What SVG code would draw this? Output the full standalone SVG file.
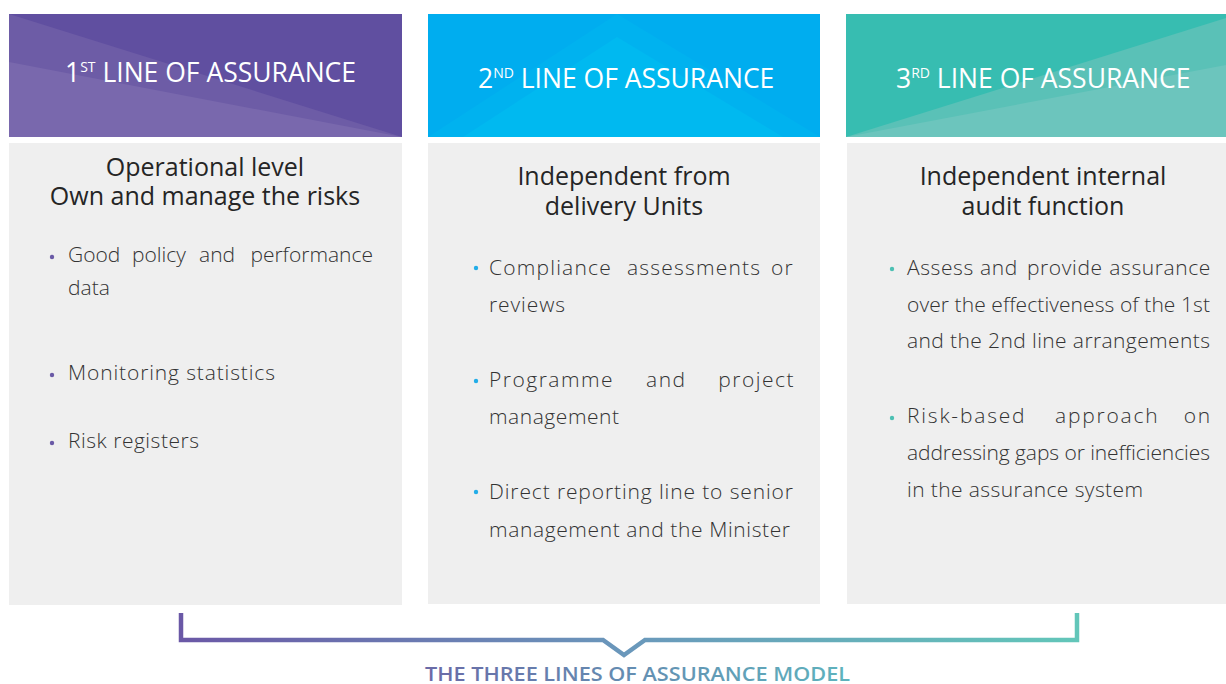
<svg xmlns="http://www.w3.org/2000/svg" width="1226" height="684" viewBox="0 0 1226 684">
<defs>
<linearGradient id="brk" gradientUnits="userSpaceOnUse" x1="181" y1="0" x2="1077" y2="0">
<stop offset="0" stop-color="#6a58a6"/>
<stop offset="0.5" stop-color="#6a98bb"/>
<stop offset="1" stop-color="#62c6b9"/>
</linearGradient>
<linearGradient id="ttl" gradientUnits="userSpaceOnUse" x1="425" y1="0" x2="850" y2="0">
<stop offset="0" stop-color="#6a6aa7"/>
<stop offset="1" stop-color="#5eb3bd"/>
</linearGradient>
</defs>
<style>
.hd{font-family:"Open Sans","DejaVu Sans",sans-serif;font-size:26.5px;fill:#ffffff}
.sup{font-size:14px}
.body{fill:#efefef}
.tt{font-family:"Open Sans","DejaVu Sans",sans-serif;font-size:25px;fill:#252525;text-anchor:middle}
.bl{font-family:"Open Sans","DejaVu Sans",sans-serif;font-size:21px;font-weight:300;fill:#333333}
.e{text-anchor:end}
.d1{fill:#6a5aa6}
.d2{fill:#22ade8}
.d3{fill:#4cc0b3}
.model{font-family:"Open Sans","DejaVu Sans",sans-serif;font-size:20px;font-weight:600}
</style>
<rect width="1226" height="684" fill="#ffffff"/>

<g id="line1">
<rect x="9" y="14" width="393" height="123" fill="#604fa0"/>
<polygon points="9,14 402,137 9,137" fill="#6d5ca6"/>
<polygon points="9,62 402,137 9,137" fill="#7968ad"/>
<text class="hd" x="65" y="82">1<tspan class="sup" dy="-10">ST</tspan><tspan dy="10"> LINE OF ASSURANCE</tspan></text>
<rect class="body" x="9" y="143" width="393" height="462"/>
<text class="tt" x="205" y="176">Operational level</text>
<text class="tt" x="205" y="205">Own and manage the risks</text>
<circle class="d1" cx="52" cy="257" r="2.2"/>
<text class="bl" y="262"><tspan x="68">Good</tspan> <tspan x="132">policy</tspan> <tspan x="199">and</tspan> <tspan class="e" x="373">performance</tspan></text>
<text class="bl" x="68" y="295">data</text>
<circle class="d1" cx="52" cy="375" r="2.2"/>
<text class="bl" x="68" y="380" textLength="207" lengthAdjust="spacing">Monitoring statistics</text>
<circle class="d1" cx="52" cy="443" r="2.2"/>
<text class="bl" x="68" y="448" textLength="131" lengthAdjust="spacing">Risk registers</text>
</g>

<g id="line2">
<rect x="428" y="14" width="392" height="123" fill="#00adef"/>
<polygon points="428,137 617,14 820,137" fill="#00b2ef"/>
<polygon points="463,137 617,37 783,137" fill="#00b9f0"/>
<text class="hd" x="478" y="88">2<tspan class="sup" dy="-10">ND</tspan><tspan dy="10"> LINE OF ASSURANCE</tspan></text>
<rect class="body" x="428" y="143" width="392" height="461"/>
<text class="tt" x="624" y="185">Independent from</text>
<text class="tt" x="624" y="215">delivery Units</text>
<circle class="d2" cx="476" cy="268" r="2.2"/>
<text class="bl" y="275" letter-spacing="1.2"><tspan x="489">Compliance</tspan> <tspan x="627">assessments</tspan> <tspan class="e" x="794">or</tspan></text>
<text class="bl" x="489" y="312" textLength="76" lengthAdjust="spacing">reviews</text>
<circle class="d2" cx="476" cy="381" r="2.2"/>
<text class="bl" y="387" letter-spacing="1.5"><tspan x="489">Programme</tspan> <tspan x="646">and</tspan> <tspan class="e" x="795">project</tspan></text>
<text class="bl" x="489" y="424" textLength="130" lengthAdjust="spacing">management</text>
<circle class="d2" cx="476" cy="492" r="2.2"/>
<text class="bl" x="489" y="499" textLength="304" lengthAdjust="spacing">Direct reporting line to senior</text>
<text class="bl" x="489" y="537" textLength="301" lengthAdjust="spacing">management and the Minister</text>
</g>

<g id="line3">
<rect x="846" y="14" width="380" height="123" fill="#37bdb1"/>
<polygon points="846,137 1226,18 1226,137" fill="#5ac1b7"/>
<polygon points="846,137 1226,65 1226,137" fill="#6cc5bd"/>
<text class="hd" x="896" y="88">3<tspan class="sup" dy="-10">RD</tspan><tspan dy="10"> LINE OF ASSURANCE</tspan></text>
<rect class="body" x="847" y="143" width="379" height="461"/>
<text class="tt" x="1043" y="185">Independent internal</text>
<text class="tt" x="1043" y="215">audit function</text>
<circle class="d3" cx="892" cy="269" r="2.2"/>
<text class="bl" y="275" letter-spacing="0.6"><tspan x="907">Assess</tspan> <tspan x="980">and</tspan> <tspan x="1027">provide</tspan> <tspan class="e" x="1211">assurance</tspan></text>
<text class="bl" x="907" y="312" textLength="303" lengthAdjust="spacing">over the effectiveness of the 1st</text>
<text class="bl" x="907" y="348" textLength="303" lengthAdjust="spacing">and the 2nd line arrangements</text>
<circle class="d3" cx="892" cy="418" r="2.2"/>
<text class="bl" y="423" letter-spacing="1.8"><tspan x="907">Risk-based</tspan> <tspan x="1055">approach</tspan> <tspan class="e" x="1212">on</tspan></text>
<text class="bl" x="907" y="460" textLength="303" lengthAdjust="spacing">addressing gaps or inefficiencies</text>
<text class="bl" x="907" y="497" textLength="236" lengthAdjust="spacing">in the assurance system</text>
</g>

<g id="connectors">
<path d="M181,613 V640 H603 L624,655 L645,640 H1077 V613" fill="none" stroke="url(#brk)" stroke-width="4.5"/>
</g>

<g id="caption">
<text class="model" x="425" y="681" textLength="425" lengthAdjust="spacingAndGlyphs" fill="url(#ttl)">THE THREE LINES OF ASSURANCE MODEL</text>
</g>
</svg>
